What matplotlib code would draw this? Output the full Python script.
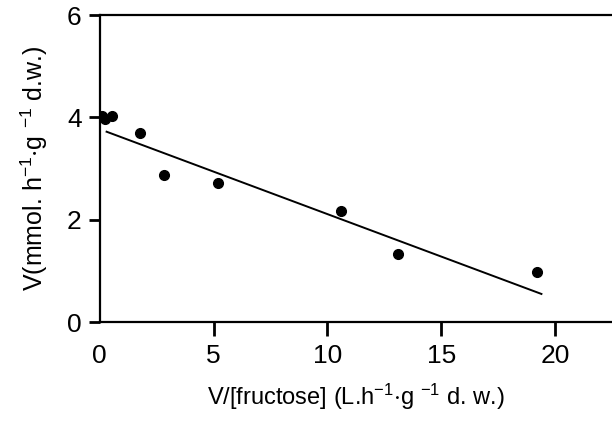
import matplotlib
matplotlib.use("Agg")
import matplotlib.pyplot as plt
import numpy as np

plt.rcParams['font.family'] = ['Liberation Sans', 'DejaVu Sans']
plt.rcParams['mathtext.fontset'] = 'custom'
plt.rcParams['mathtext.rm'] = 'Liberation Sans'
plt.rcParams['mathtext.it'] = 'Liberation Sans'
plt.rcParams['mathtext.default'] = 'regular'

# Eadie-Hofstee data: V/[fructose] vs V
x_ratio = [0.1, 0.25, 0.55, 1.75, 2.8, 5.2, 10.6, 13.1, 19.2]
v_rate = [4.02, 3.97, 4.03, 3.70, 2.88, 2.72, 2.18, 1.33, 0.98]

# regression line
fit_intercept = 3.77
fit_slope = -0.166
fit_x = [0.3, 19.4]

xticks = [0, 5, 10, 15, 20]
yticks = [0, 2, 4, 6]

fig = plt.figure(figsize=(6.12, 4.30), dpi=100)
ax = fig.add_axes([0.163, 0.251, 0.837, 0.714])

ax.plot(x_ratio, v_rate, 'o', color='black', markersize=7)
lx = np.array(fit_x)
ax.plot(lx, fit_intercept + fit_slope * lx, color='black', linewidth=1.4)

ax.set_xlim(0, 22.5)
ax.set_ylim(0, 6)
ax.set_xticks(xticks)
ax.set_yticks(yticks)
ax.tick_params(axis='both', direction='out', width=2, labelsize=19)
ax.tick_params(axis='x', length=10, pad=6)
ax.tick_params(axis='y', length=8, pad=5)
ax.xaxis.get_major_ticks()[0].tick1line.set_visible(False)

for s in ['left', 'bottom', 'top']:
    ax.spines[s].set_linewidth(1.6)
ax.spines['right'].set_visible(False)

ax.set_xlabel(r'V/[fructose] (L.h$^{-1}$$\cdot$g $^{-1}$ d. w.)', fontsize=17, labelpad=10)
ax.set_ylabel(r'V(mmol. h$^{-1}$$\cdot$g $^{-1}$ d.w.)', fontsize=18, labelpad=12)

fig.savefig('out.png', dpi=100)
